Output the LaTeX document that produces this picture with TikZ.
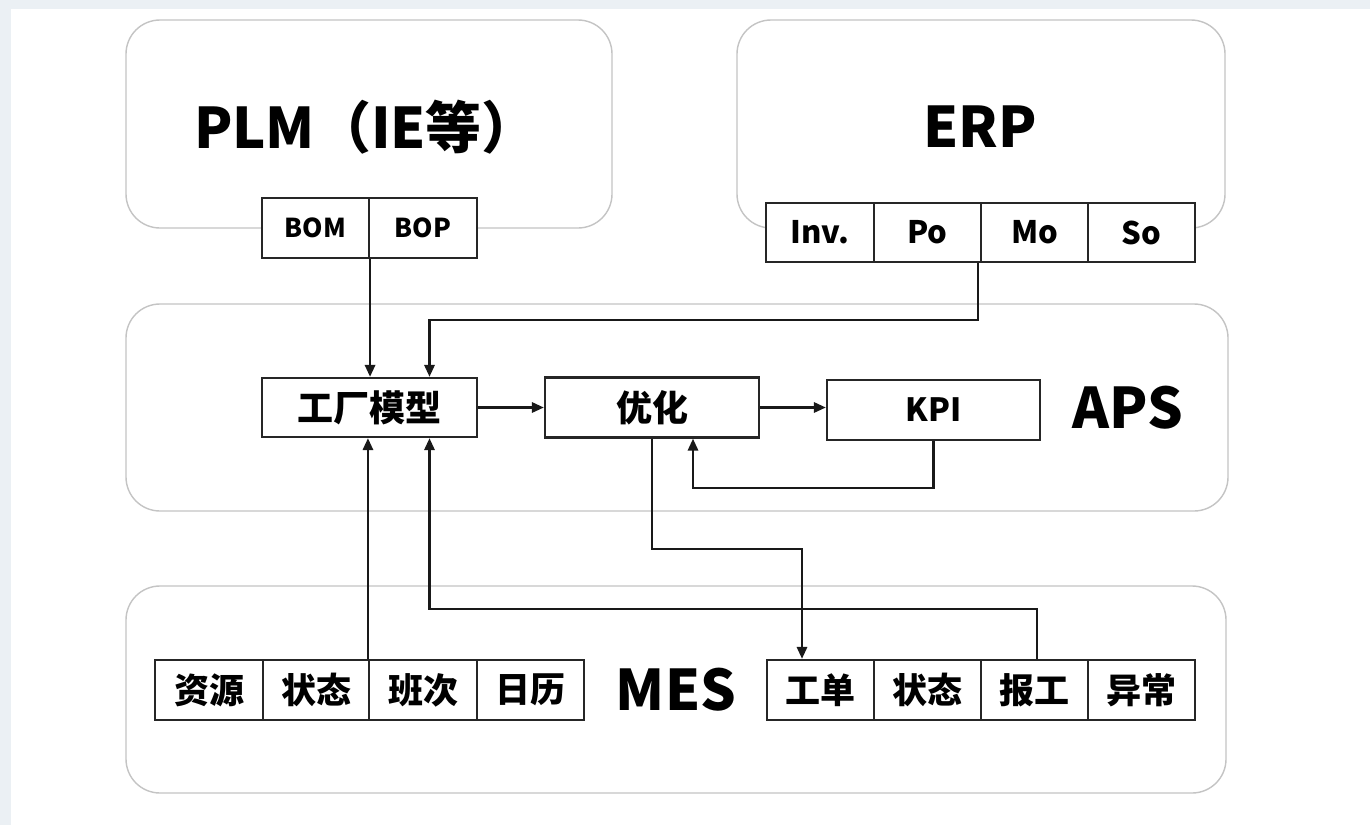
\documentclass[tikz,border=0pt]{standalone}
\usepackage{fontspec}
\setmainfont{Noto Sans CJK SC}
\usetikzlibrary{arrows.meta}
\definecolor{bgray}{HTML}{EBF0F4}
\definecolor{cgray}{HTML}{C4C4C4}
\begin{document}
\begin{tikzpicture}[x=1pt,y=-1pt,
  container/.style={draw=cgray,line width=1.4pt,rounded corners=34pt},
  cell/.style={draw=black!85,line width=2.1pt,fill=white,inner sep=0pt,minimum height=59pt,font=\bfseries\fontsize{#1}{#1}\selectfont},
  cell/.default=34,
  title/.style={font=\bfseries\fontsize{56}{60}\selectfont,inner sep=0pt},
  arr/.style={draw=black!90,line width=2.8pt,-{Triangle[length=12pt,width=10pt]}},
  ln/.style={draw=black!90,line width=2.8pt}
]
\useasboundingbox (0,0) rectangle (1370,825);
\fill[bgray] (0,0) rectangle (1370,825);
\fill[white] (11,9) rectangle (1370,825);
% containers
\draw[container] (126,20) rectangle (612,228);
\draw[container] (737,20) rectangle (1225,228);
\draw[container] (126,304) rectangle (1228,511);
\draw[container] (126,586) rectangle (1226,793);
% titles
\node[title] (tplm) at (366,127) {PLM（IE等）};
\node[title] (terp) at (980,127) {ERP};
\node[title] (taps) at (1128,408) {APS};
\node[title] (tmes) at (676,690) {MES};
% PLM cells
\node[cell=26,minimum width=107pt,minimum height=60pt] (bom) at (315.5,228) {BOM};
\node[cell=26,minimum width=108pt,minimum height=60pt] (bop) at (423,228) {BOP};
% ERP cells
\node[cell=31,minimum width=108pt] (inv) at (820,232.5) {Inv.};
\node[cell=31,minimum width=107pt] (po) at (927.5,232.5) {Po};
\node[cell=31,minimum width=107pt] (mo) at (1034.5,232.5) {Mo};
\node[cell=31,minimum width=107pt] (so) at (1141.5,232.5) {So};
% APS boxes
\node[cell=36,minimum width=215pt] (fm) at (369.5,407.5) {工厂模型};
\node[cell=36,minimum width=214pt,minimum height=60pt] (opt) at (652,407.5) {优化};
\node[cell=32,minimum width=213pt,minimum height=60pt] (kpi) at (933.5,410) {KPI};
% MES left cells
\node[cell=35,minimum width=108pt,minimum height=60pt] (zy) at (209,690) {资源};
\node[cell=35,minimum width=106pt,minimum height=60pt] (zt1) at (316,690) {状态};
\node[cell=35,minimum width=108pt,minimum height=60pt] (bc) at (423,690) {班次};
\node[cell=35,minimum width=107pt,minimum height=60pt] (rl) at (530.5,690) {日历};
% MES right cells
\node[cell=35,minimum width=107pt,minimum height=60pt] (gd) at (820.5,690) {工单};
\node[cell=35,minimum width=107pt,minimum height=60pt] (zt2) at (927.5,690) {状态};
\node[cell=35,minimum width=107pt,minimum height=60pt] (bg) at (1034.5,690) {报工};
\node[cell=35,minimum width=107pt,minimum height=60pt] (yc) at (1141.5,690) {异常};
% connectors
\draw[arr] (bom.south east) -- (bom.south east |- fm.north);
\draw[arr] ([xshift=-2pt]mo.south west) -- ++(0,57) -| ([xshift=60pt]fm.north);
\draw[arr] (fm.east) -- (opt.west);
\draw[arr] (opt.east) -- (opt.east -| kpi.west);
\draw[arr] (kpi.south) -- ++(0,47) -| ([xshift=41pt]opt.south);
\draw[arr] (opt.south) -- ++(0,110.5) -| ([xshift=-18.5pt]gd.north);
\draw[arr] (bc.north west) -- (bc.north west |- fm.south);
\draw[arr] ([xshift=2.5pt]bg.north) -- ++(0,-50) -| ([xshift=60pt]fm.south);
\end{tikzpicture}
\end{document}
